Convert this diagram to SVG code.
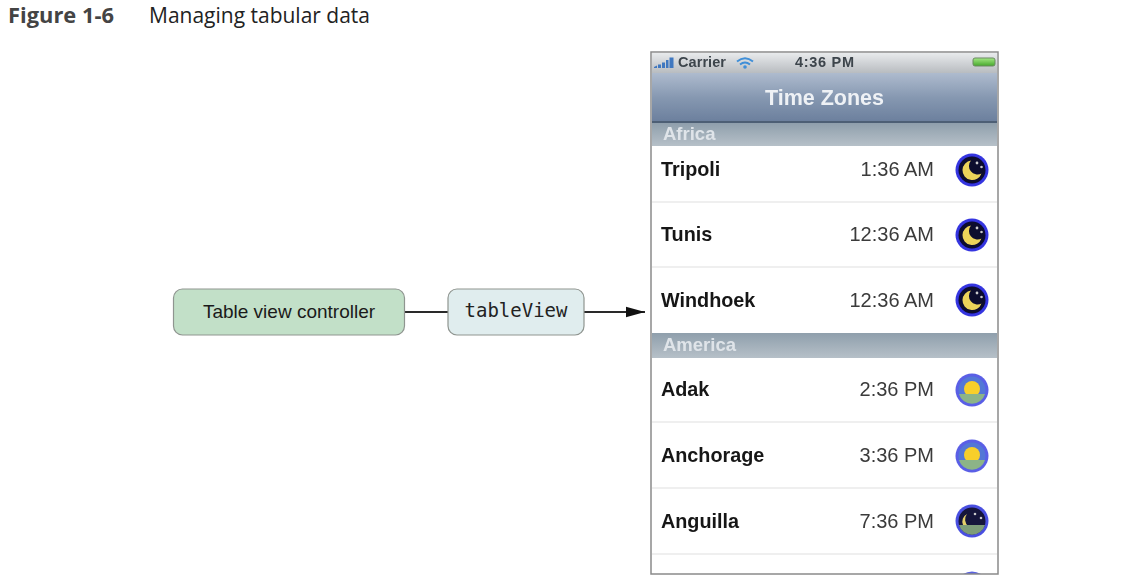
<svg xmlns="http://www.w3.org/2000/svg" width="1122" height="584" viewBox="0 0 1122 584">
<style>
.cap{font-family:"Open Sans","Noto Sans",sans-serif;font-size:21px;fill:#222}
.capb{font-weight:700;fill:#444}
.lab{font-family:"Liberation Sans",Arial,sans-serif;font-size:19px;fill:#1a1a1a}
.mono{font-family:"DejaVu Sans Mono",monospace;font-size:19px;fill:#222}
.node{stroke:#8f9590;stroke-width:1.2}
.conn{stroke:#2a2a2a;stroke-width:2;fill:none}
.city{font-family:"Liberation Sans",Arial,sans-serif;font-weight:700;font-size:19.800px;fill:#161616}
.time{font-family:"Liberation Sans",Arial,sans-serif;font-size:20px;fill:#3a3a3a;text-anchor:end}
.sec{font-family:"Liberation Sans",Arial,sans-serif;font-weight:700;font-size:18.500px;fill:#dfe4e9}
.st{font-family:"Liberation Sans",Arial,sans-serif;font-weight:700;font-size:14.500px;fill:#3c444c}
.nav{font-family:"Liberation Sans",Arial,sans-serif;font-weight:700;font-size:21.500px;fill:#eef1f5;text-anchor:middle}
.sep{stroke:#efefef;stroke-width:2}
</style>
<defs>
<linearGradient id="gS" x1="0" y1="0" x2="0" y2="1"><stop offset="0" stop-color="#e8eaec"/><stop offset="1" stop-color="#b8bcc0"/></linearGradient>
<linearGradient id="gN" x1="0" y1="0" x2="0" y2="1"><stop offset="0" stop-color="#aebbce"/><stop offset="0.5" stop-color="#8698b1"/><stop offset="1" stop-color="#6b7f9d"/></linearGradient>
<linearGradient id="gH" x1="0" y1="0" x2="0" y2="1"><stop offset="0" stop-color="#8f9fac"/><stop offset="1" stop-color="#b6c0c8"/></linearGradient>
<linearGradient id="gB" x1="0" y1="0" x2="0" y2="1"><stop offset="0" stop-color="#a4e884"/><stop offset="1" stop-color="#46a82c"/></linearGradient>
<filter id="soft" x="-5%" y="-5%" width="110%" height="110%"><feGaussianBlur stdDeviation="0.75"/></filter>
<marker id="arr" markerUnits="userSpaceOnUse" markerWidth="20" markerHeight="12" refX="19" refY="6" orient="auto"><path d="M0 0.800L19 6L0 11.200Z" fill="#111"/></marker>
<g id="night"><circle r="16.500" fill="#3434e0"/><circle r="13.500" fill="#07072e"/><path d="M-1-9.500A9.800 9.800 0 1 0 9.500 3.500A8.500 8.500 0 0 1-1-9.500Z" fill="#ecd35a"/><circle cx="5" cy="-7" r="1.400" fill="#ccc"/><circle cx="9.500" cy="-3" r="1.300" fill="#ccc"/></g>
<g id="day"><circle r="16.500" fill="#5a5fe6"/><circle r="13.500" fill="#5277d6"/><circle cy="-1" r="8" fill="#f7cf2a"/><path d="M-13 4H13A13.500 13.500 0 0 1-13 4Z" fill="#8cb487"/></g>
<g id="dusk"><circle r="16.500" fill="#4a50e0"/><circle r="13.500" fill="#12123a"/><path d="M-5-7A8.500 8.500 0 0 0-9 4H9A8 8 0 0 1-5-7Z" fill="#e4cf68"/><circle cx="3" cy="-7" r="1.300" fill="#ccc"/><circle cx="9" cy="-3" r="1.300" fill="#ccc"/><path d="M-13 4H13A13.500 13.500 0 0 1-13 4Z" fill="#7d9c78"/></g>
</defs>
<rect width="1122" height="584" fill="#fff"/>
<g id="caption">
<text class="cap capb" x="8" y="23" textLength="106" lengthAdjust="spacingAndGlyphs">Figure 1-6</text>
<text class="cap" x="149" y="23" textLength="221" lengthAdjust="spacingAndGlyphs">Managing tabular data</text>
</g>
<g id="connectors">
<path class="conn" d="M405 312H448"/>
<path class="conn" d="M584 312H645" marker-end="url(#arr)"/>
</g>
<g id="controller">
<rect class="node" x="173.500" y="289" width="231" height="46" rx="9" fill="#c2e0c8"/>
<text class="lab" x="289" y="318" text-anchor="middle">Table view controller</text>
</g>
<g id="tableViewNode">
<rect class="node" x="448" y="289" width="136" height="46" rx="9" fill="#e0edee"/>
<text class="mono" x="516" y="317" text-anchor="middle" textLength="103" lengthAdjust="spacingAndGlyphs">tableView</text>
</g>
<g id="phone">
<rect x="651" y="52" width="347" height="522" fill="#fff"/>
<g filter="url(#soft)">
<rect x="652" y="53" width="345" height="20" fill="url(#gS)"/>
<path d="M654 68v-1l3-1.500V68ZM658 68v-3.500h3V68ZM662 68v-5.500h3V68ZM666 68v-8h2.500V68ZM669.500 68v-10.500h4V68Z" fill="#4078c0"/>
<text class="st" x="678" y="67" textLength="48">Carrier</text>
<path d="M737 61.500Q745 55 753 61.500M740 64.500Q745 60.500 750 64.500" fill="none" stroke="#3f8fd8" stroke-width="2"/>
<circle cx="745" cy="67" r="1.800" fill="#3f8fd8"/>
<text class="st" x="795" y="67" textLength="59">4:36 PM</text>
<rect x="973" y="58" width="22" height="8" rx="2" fill="url(#gB)" stroke="#6b8a63"/>
<rect x="652" y="73" width="345" height="49" fill="url(#gN)"/>
<rect x="652" y="121" width="345" height="2" fill="#4e5f74"/>
<text class="nav" x="824.500" y="105">Time Zones</text>
<rect x="652" y="123" width="345" height="23" fill="url(#gH)"/>
<text class="sec" x="663" y="140">Africa</text>
<rect x="652" y="333" width="345" height="25" fill="url(#gH)"/>
<text class="sec" x="663" y="351">America</text>
<path class="sep" d="M652 202H997M652 267H997M652 422H997M652 488H997M652 554H997"/>
<text class="city" x="661" y="176">Tripoli</text><text class="time" x="934" y="176">1:36 AM</text><use href="#night" x="972" y="170"/>
<text class="city" x="661" y="241">Tunis</text><text class="time" x="934" y="241">12:36 AM</text><use href="#night" x="972" y="235"/>
<text class="city" x="661" y="307">Windhoek</text><text class="time" x="934" y="307">12:36 AM</text><use href="#night" x="972" y="300"/>
<text class="city" x="661" y="396">Adak</text><text class="time" x="934" y="396">2:36 PM</text><use href="#day" x="972" y="390"/>
<text class="city" x="661" y="462">Anchorage</text><text class="time" x="934" y="462">3:36 PM</text><use href="#day" x="972" y="456"/>
<text class="city" x="661" y="528">Anguilla</text><text class="time" x="934" y="528">7:36 PM</text><use href="#dusk" x="972" y="521"/>
<path d="M963 574Q972 569 981 574Z" fill="#5a62e0"/>
</g>
<rect x="651" y="52" width="347" height="522" fill="none" stroke="#8a8a8a" stroke-width="1.500"/>
</g>
</svg>
